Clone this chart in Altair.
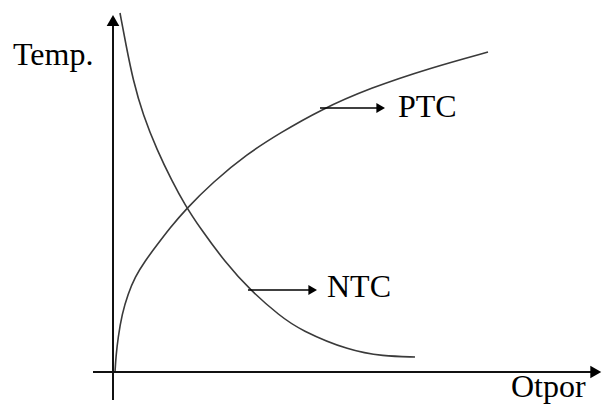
import altair as alt
import pandas as pd

# Curves (origin at the axes crossing, units ~ px)
ptc_x = [2, 3, 5, 9, 15, 22, 32, 44, 57, 72, 100, 134, 167, 207, 257, 317, 375]
ptc_y = [0, 16, 34, 58, 78, 95, 111, 127, 144, 162, 190, 218, 239, 262, 284, 304, 320]

ntc_x = [7, 13, 20, 30, 44, 59, 72, 87, 112, 137, 167, 187, 237, 270, 302]
ntc_y = [359, 327, 292, 257, 222, 191, 167, 144, 110, 82, 56, 42, 21, 16, 15]

# Axis lines
axis_x1 = [0, -20]
axis_x2 = [0, 483]
axis_y1 = [-28, 0]
axis_y2 = [346, 0]

# Axis arrow heads
head_x = [0, 482.8]
head_y = [351.4, 0]
head_shape = ["triangle-up", "triangle-right"]

# Label pointer arrows (PTC, NTC)
ptr_x1 = [207, 135]
ptr_x2 = [268, 196]
ptr_y = [264, 82]
ptr_head_x = [267.7, 199.7]

# Text labels
label_text = ["Temp.", "PTC", "NTC", "Otpor"]
label_x = [-100, 285, 214, 398]
label_y = [307, 255, 75, -25]

XD = [-105, 489]
YD = [-32, 364]

xs = alt.Scale(domain=XD, nice=False, zero=False)
ys = alt.Scale(domain=YD, nice=False, zero=False)

curves = pd.DataFrame({
    "x": ptc_x + ntc_x,
    "y": ptc_y + ntc_y,
    "curve": ["PTC"] * len(ptc_x) + ["NTC"] * len(ntc_x),
    "order": list(range(len(ptc_x))) + list(range(len(ntc_x))),
})
axes_df = pd.DataFrame({"x": axis_x1, "x2": axis_x2, "y": axis_y1, "y2": axis_y2})
heads_df = pd.DataFrame({"x": head_x, "y": head_y, "shape": head_shape})
ptr_df = pd.DataFrame({"x": ptr_x1, "x2": ptr_x2, "y": ptr_y})
ptr_head_df = pd.DataFrame({"x": ptr_head_x, "y": ptr_y})
labels_df = pd.DataFrame({"t": label_text, "x": label_x, "y": label_y})

curve_layer = alt.Chart(curves).mark_line(
    interpolate="basis", color="#3a3a3a", strokeWidth=1.6
).encode(
    x=alt.X("x:Q", scale=xs, axis=None),
    y=alt.Y("y:Q", scale=ys, axis=None),
    detail="curve:N",
    order="order:Q",
)

axes_layer = alt.Chart(axes_df).mark_rule(color="#111111", strokeWidth=2).encode(
    x=alt.X("x:Q", scale=xs, axis=None),
    x2="x2:Q",
    y=alt.Y("y:Q", scale=ys, axis=None),
    y2="y2:Q",
)

heads_layer = alt.Chart(heads_df).mark_point(
    filled=True, color="#000000", size=160, opacity=1
).encode(
    x=alt.X("x:Q", scale=xs, axis=None),
    y=alt.Y("y:Q", scale=ys, axis=None),
    shape=alt.Shape("shape:N", scale=None, legend=None),
)

ptr_layer = alt.Chart(ptr_df).mark_rule(color="#000000", strokeWidth=1.6).encode(
    x=alt.X("x:Q", scale=xs, axis=None),
    x2="x2:Q",
    y=alt.Y("y:Q", scale=ys, axis=None),
)

ptr_head_layer = alt.Chart(ptr_head_df).mark_point(
    filled=True, color="#000000", size=100, opacity=1, shape="triangle-right"
).encode(
    x=alt.X("x:Q", scale=xs, axis=None),
    y=alt.Y("y:Q", scale=ys, axis=None),
)

text_layer = alt.Chart(labels_df).mark_text(
    font="Liberation Serif", fontSize=32, color="#000000",
    align="left", baseline="alphabetic"
).encode(
    x=alt.X("x:Q", scale=xs, axis=None),
    y=alt.Y("y:Q", scale=ys, axis=None),
    text="t:N",
)

chart = alt.layer(
    curve_layer, axes_layer, heads_layer, ptr_layer, ptr_head_layer, text_layer
).properties(
    width=594, height=396, padding=0, autosize="none",
    background="white",
).configure_view(stroke=None)

chart.save("out.html", embed_options={"renderer": "svg", "actions": False})
